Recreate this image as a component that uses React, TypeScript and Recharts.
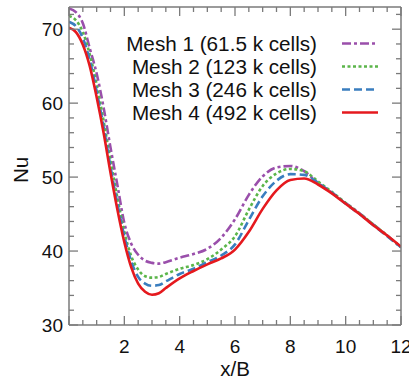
import { LineChart, Line, XAxis, YAxis, Legend, Label } from "recharts";

const X_POS = [
  0, 0.25, 0.5, 0.75, 1, 1.25, 1.5, 1.75, 2, 2.25, 2.5, 2.75, 3, 3.25, 3.5, 4,
  4.5, 5, 5.5, 6, 6.5, 7, 7.5, 8, 8.5, 9, 9.5, 10, 10.5, 11, 11.5, 12,
];

// Nu along x/B for each mesh
const MESH1 = [
  72.8, 72.3, 70.8, 67.4, 64.0, 59.4, 54.0, 48.9, 43.8, 41.0, 39.5, 38.7, 38.4, 38.3, 38.5, 39.1,
  39.6, 40.3, 41.8, 44.3, 47.6, 50.1, 51.3, 51.5, 50.8, 49.2, 47.9, 46.5, 45.1, 43.6, 42.1, 40.5,
];
const MESH2 = [
  71.8, 71.2, 69.6, 66.6, 62.5, 57.6, 52.2, 47.2, 42.6, 39.3, 37.5, 36.6, 36.4, 36.5, 36.9, 37.6,
  38.1, 38.9, 40.2, 42.0, 45.6, 48.8, 50.5, 51.1, 50.8, 49.4, 48.0, 46.5, 45.1, 43.6, 42.1, 40.5,
];
const MESH3 = [
  71.0, 70.4, 68.8, 65.8, 61.6, 56.8, 51.4, 46.4, 42.0, 38.6, 36.5, 35.6, 35.3, 35.4, 35.9, 36.9,
  37.6, 38.5, 39.4, 40.9, 44.2, 47.4, 49.5, 50.4, 50.3, 49.2, 47.9, 46.4, 45.0, 43.5, 42.0, 40.5,
];
const MESH4 = [
  70.2, 69.6, 67.9, 65.0, 60.8, 56.0, 50.6, 45.6, 41.2, 37.8, 35.6, 34.5, 34.1, 34.3, 35.0, 36.3,
  37.3, 38.2, 39.0, 40.2, 42.6, 45.7, 48.2, 49.6, 49.8, 49.0, 47.8, 46.4, 45.0, 43.5, 42.1, 40.6,
];

const SERIES = [
  { key: "mesh1", name: "Mesh 1 (61.5 k cells)", color: "#9a4fab", dash: "9 3 3 3" },
  { key: "mesh2", name: "Mesh 2 (123 k cells)", color: "#5bb54a", dash: "3 2.5" },
  { key: "mesh3", name: "Mesh 3 (246 k cells)", color: "#3a7ebf", dash: "8 4" },
  { key: "mesh4", name: "Mesh 4 (492 k cells)", color: "#e5191e", dash: undefined },
];

const X_TICKS = Array.from({ length: 25 }, (_, i) => i * 0.5);
const Y_TICKS = Array.from({ length: 22 }, (_, i) => 30 + i * 2);

const data = X_POS.map((x, i) => ({
  x,
  mesh1: MESH1[i],
  mesh2: MESH2[i],
  mesh3: MESH3[i],
  mesh4: MESH4[i],
}));

const FONT = "'Liberation Sans', Arial, sans-serif";
const AXIS = "#7a7a7a";

const isMajorX = (v: number) => Number.isInteger(v) && v % 2 === 0;
const isMajorY = (v: number) => v % 10 === 0;

const BottomTick = ({ x, y, payload }: any) => {
  const v = payload.value;
  const major = isMajorX(v);
  return (
    <g>
      <line x1={x} x2={x} y1={y} y2={y - (major ? 9 : 5)} stroke={AXIS} strokeWidth={1.3} />
      {major && v !== 0 && (
        <text x={x} y={y + 21} textAnchor="middle" dominantBaseline="central" fontSize={19} fill="#111" fontFamily={FONT}>
          {v}
        </text>
      )}
    </g>
  );
};

const TopTick = ({ x, y, payload }: any) => (
  <line x1={x} x2={x} y1={y} y2={y + (isMajorX(payload.value) ? 9 : 5)} stroke={AXIS} strokeWidth={1.3} />
);

const LeftTick = ({ x, y, payload }: any) => {
  const v = payload.value;
  const major = isMajorY(v);
  return (
    <g>
      <line x1={x} x2={x + (major ? 9 : 5)} y1={y} y2={y} stroke={AXIS} strokeWidth={1.3} />
      {major && (
        <text x={x - 6} y={y} textAnchor="end" dominantBaseline="central" fontSize={19} fill="#111" fontFamily={FONT}>
          {v}
        </text>
      )}
    </g>
  );
};

const RightTick = ({ x, y, payload }: any) => (
  <line x1={x} x2={x - (isMajorY(payload.value) ? 9 : 5)} y1={y} y2={y} stroke={AXIS} strokeWidth={1.3} />
);

const LegendBox = () => (
  <div style={{ position: "relative", width: 409, height: 140, fontFamily: FONT, fontSize: 20.7, color: "#111" }}>
    {SERIES.map((s, i) => (
      <div key={s.key} style={{ position: "absolute", left: 0, top: 31.5 + i * 23.2, height: 23, width: 409 }}>
        <div style={{ position: "absolute", left: 0, width: 317, textAlign: "right", lineHeight: "23px", whiteSpace: "nowrap" }}>
          {s.name}
        </div>
        <svg width={38} height={23} style={{ position: "absolute", left: 341, top: 0 }}>
          <line x1={1} x2={37} y1={11.5} y2={11.5} stroke={s.color} strokeWidth={2.6} strokeDasharray={s.dash} />
        </svg>
      </div>
    ))}
  </div>
);

export default function App() {
  return (
    <div style={{ position: "absolute", left: 0, top: 0, width: 409, height: 381, background: "#fff" }}>
      <LineChart width={409} height={381} data={data} margin={{ top: 6, right: 7, bottom: 55, left: 68 }}>
        <XAxis
          xAxisId="bottom"
          dataKey="x"
          type="number"
          domain={[0, 12]}
          ticks={X_TICKS}
          interval={0}
          height={1}
          tickSize={0}
          tickMargin={0}
          tickLine={false}
          axisLine={{ stroke: AXIS, strokeWidth: 1.5 }}
          tick={BottomTick}
          allowDataOverflow
        >
          <Label
            content={({ viewBox }: any) => (
              <text
                x={(viewBox?.x ?? 69) + (viewBox?.width ?? 332) / 2}
                y={(viewBox?.y ?? 325) + 43}
                textAnchor="middle"
                dominantBaseline="central"
                fontSize={20.5}
                fill="#111"
                fontFamily={FONT}
              >
                x/B
              </text>
            )}
          />
        </XAxis>
        <XAxis
          xAxisId="top"
          orientation="top"
          dataKey="x"
          type="number"
          domain={[0, 12]}
          ticks={X_TICKS}
          interval={0}
          height={1}
          tickSize={0}
          tickMargin={0}
          tickLine={false}
          axisLine={{ stroke: AXIS, strokeWidth: 1.5 }}
          tick={TopTick}
          allowDataOverflow
        />
        <YAxis
          yAxisId="left"
          type="number"
          domain={[30, 73]}
          ticks={Y_TICKS}
          interval={0}
          width={1}
          tickSize={0}
          tickMargin={0}
          tickLine={false}
          axisLine={{ stroke: AXIS, strokeWidth: 1.5 }}
          tick={LeftTick}
          allowDataOverflow
        >
          <Label
            content={({ viewBox }: any) => {
              const cx = (viewBox?.x ?? 68) + (viewBox?.width ?? 1) - 49;
              const cy = (viewBox?.y ?? 7) + (viewBox?.height ?? 318) / 2 + 4;
              return (
                <text
                  x={cx}
                  y={cy}
                  transform={`rotate(-90 ${cx} ${cy})`}
                  textAnchor="middle"
                  dominantBaseline="central"
                  fontSize={20.5}
                  fill="#111"
                  fontFamily={FONT}
                >
                  Nu
                </text>
              );
            }}
          />
        </YAxis>
        <YAxis
          yAxisId="right"
          orientation="right"
          type="number"
          domain={[30, 73]}
          ticks={Y_TICKS}
          interval={0}
          width={1}
          tickSize={0}
          tickMargin={0}
          tickLine={false}
          axisLine={{ stroke: AXIS, strokeWidth: 1.5 }}
          tick={RightTick}
          allowDataOverflow
        />
        <Legend
          layout="vertical"
          align="center"
          verticalAlign="middle"
          content={LegendBox}
          wrapperStyle={{ left: 0, top: 0, width: 409, height: 140 }}
        />
        {SERIES.map((s) => (
          <Line
            key={s.key}
            xAxisId="bottom"
            yAxisId="left"
            type="monotone"
            dataKey={s.key}
            name={s.name}
            stroke={s.color}
            strokeWidth={2.6}
            strokeDasharray={s.dash}
            dot={false}
            activeDot={false}
            isAnimationActive={false}
          />
        ))}
      </LineChart>
    </div>
  );
}
